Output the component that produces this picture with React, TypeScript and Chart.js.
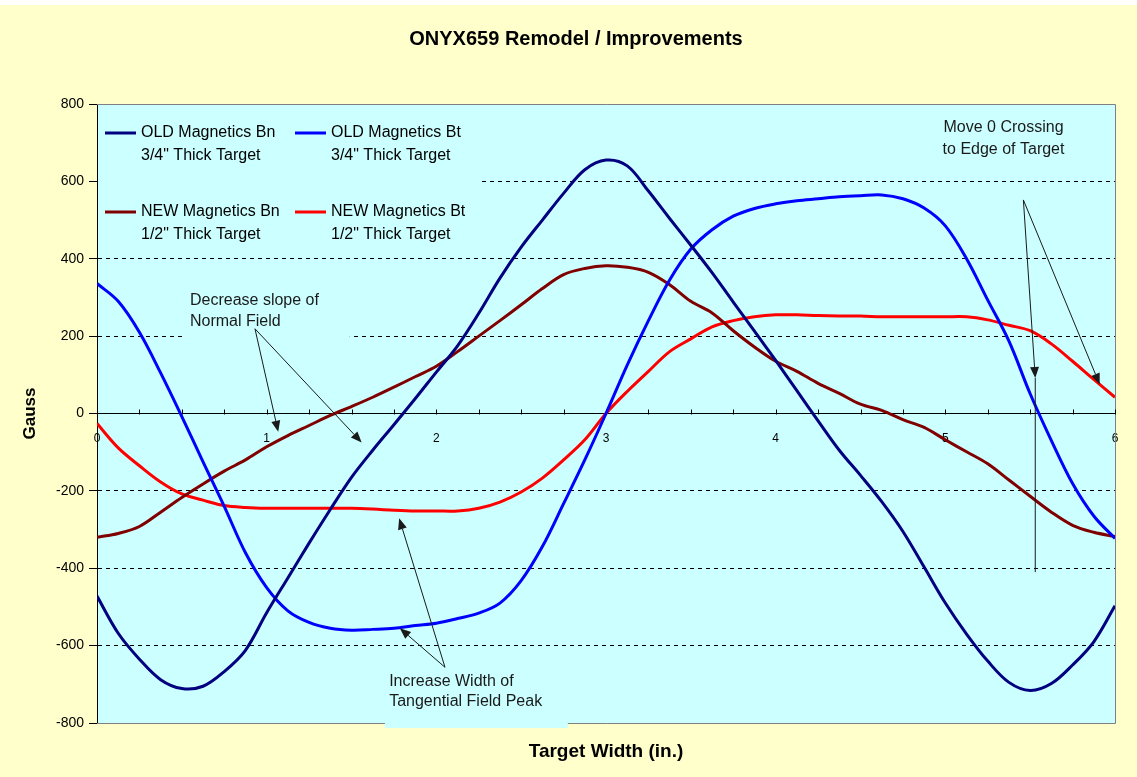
import React, { useEffect, useRef } from "react";
import { Chart, registerables } from "chart.js";

Chart.register(...registerables);

const FONT = "'Liberation Sans', Arial, sans-serif";

const chartTitle = "ONYX659 Remodel / Improvements";
const xAxisTitle = "Target Width (in.)";
const yAxisTitle = "Gauss";

const xInches = [0, 0.125, 0.25, 0.375, 0.5, 0.625, 0.75, 0.875, 1, 1.125, 1.25, 1.375, 1.5, 1.625, 1.75, 1.875, 2, 2.125, 2.25, 2.375, 2.5, 2.625, 2.75, 2.875, 3, 3.125, 3.25, 3.375, 3.5, 3.625, 3.75, 3.875, 4, 4.125, 4.25, 4.375, 4.5, 4.625, 4.75, 4.875, 5, 5.125, 5.25, 5.375, 5.5, 5.625, 5.75, 5.875, 6];

const oldBn = [-472, -568, -635, -688, -711, -705, -667, -612, -515, -425, -335, -248, -165, -95, -29, 38, 107, 175, 259, 350, 430, 500, 569, 630, 655, 640, 575, 504, 435, 364, 288, 213, 137, 59, -19, -95, -160, -228, -305, -397, -490, -570, -640, -695, -716, -698, -650, -590, -497];
const oldBt = [336, 290, 210, 105, -8, -125, -240, -360, -450, -510, -540, -555, -560, -558, -555, -548, -542, -530, -516, -490, -432, -344, -233, -120, 0, 125, 240, 345, 425, 475, 510, 530, 542, 550, 555, 560, 563, 565, 555, 531, 485, 400, 293, 187, 51, -70, -181, -265, -323];
const newBn = [-320, -310, -292, -255, -217, -182, -149, -120, -86, -57, -31, -5, 18, 42, 68, 95, 122, 160, 200, 240, 281, 323, 359, 375, 382, 378, 365, 333, 290, 260, 214, 172, 135, 109, 78, 52, 24, 8, -16, -36, -68, -99, -130, -172, -214, -255, -289, -307, -318];
const newBt = [-26, -89, -135, -177, -208, -224, -238, -243, -245, -245, -245, -245, -245, -247, -250, -252, -252, -252, -245, -229, -203, -167, -120, -68, 0, 57, 109, 160, 193, 224, 240, 250, 255, 255, 253, 252, 252, 250, 250, 250, 250, 250, 242, 228, 214, 180, 135, 88, 42];

const seriesLabels = [
  ["OLD Magnetics Bn", "3/4\" Thick Target"],
  ["OLD Magnetics Bt", "3/4\" Thick Target"],
  ["NEW Magnetics Bn", "1/2\" Thick Target"],
  ["NEW Magnetics Bt", "1/2\" Thick Target"],
];
const seriesValues = [oldBn, oldBt, newBn, newBt];
const seriesColors = ["#000080", "#0000FF", "#800000", "#FF0000"];

const yMin = -800;
const yMax = 800;
const yStep = 200;
const xMin = 0;
const xMax = 6;
const xStep = 0.25;

// annotations in data units
const notes = [
  {
    lines: ["Decrease slope of", "Normal Field"],
    align: "left",
    x: 0.548,
    y: [291, 237],
    box: [0.52, 1.49, 325, 190],
    from: [0.931, 219],
    to: [[1.068, -47], [1.56, -75]],
  },
  {
    lines: ["Increase Width of", "Tangential Field Peak"],
    align: "left",
    x: 1.722,
    y: [-693, -745],
    box: [1.697, 2.775, -660, -813],
    from: [2.051, -656],
    to: [[1.781, -271], [1.785, -555]],
  },
  {
    lines: ["Move 0 Crossing", "to Edge of Target"],
    align: "center",
    x: 5.343,
    y: [740, 683],
    box: null,
    from: [5.46, 552],
    to: [[5.53, 92], [5.91, 75]],
  },
];
const edgeMarker = { x: 5.53, y0: 92, y1: -410 };

function arrow(ctx: CanvasRenderingContext2D, x0: number, y0: number, x1: number, y1: number) {
  const ang = Math.atan2(y1 - y0, x1 - x0);
  const len = 11;
  const hw = 4.5;
  const bx = x1 - len * Math.cos(ang);
  const by = y1 - len * Math.sin(ang);
  ctx.beginPath();
  ctx.moveTo(x0, y0);
  ctx.lineTo(bx, by);
  ctx.stroke();
  ctx.beginPath();
  ctx.moveTo(x1, y1);
  ctx.lineTo(bx + hw * Math.sin(ang), by - hw * Math.cos(ang));
  ctx.lineTo(bx - hw * Math.sin(ang), by + hw * Math.cos(ang));
  ctx.closePath();
  ctx.fill();
}

const decorPlugin = {
  id: "decor",
  beforeDraw(chart: any) {
    const { ctx, width, height, chartArea: a } = chart;
    ctx.save();
    ctx.fillStyle = "#FFFFFF";
    ctx.fillRect(0, 0, width, height);
    ctx.fillStyle = "#FFFFCC";
    ctx.fillRect(0, 5, width, height - 5);
    ctx.fillStyle = "#CCFFFF";
    ctx.fillRect(a.left, a.top, a.right - a.left, a.bottom - a.top);
    ctx.restore();
  },
  beforeDatasetsDraw(chart: any) {
    const { ctx, chartArea: a, scales } = chart;
    const xs = scales.x;
    const ys = scales.y;
    ctx.save();
    // plot border
    ctx.strokeStyle = "#808080";
    ctx.lineWidth = 1;
    ctx.beginPath();
    ctx.moveTo(a.left, a.top + 0.5);
    ctx.lineTo(a.right + 0.5, a.top + 0.5);
    ctx.lineTo(a.right + 0.5, a.bottom + 0.5);
    ctx.lineTo(a.left, a.bottom + 0.5);
    ctx.stroke();
    // x minor tick marks (inside)
    const y0 = Math.round(ys.getPixelForValue(0)) + 0.5;
    ctx.strokeStyle = "#000";
    ctx.beginPath();
    xs.ticks.forEach((t: any) => {
      const px = Math.round(xs.getPixelForValue(t.value)) + 0.5;
      ctx.moveTo(px, y0);
      ctx.lineTo(px, y0 - 5);
    });
    ctx.stroke();
    // text boxes hiding grid lines
    ctx.fillStyle = "#CCFFFF";
    notes.forEach((n) => {
      if (!n.box) return;
      const [bx0, bx1, by0, by1] = n.box;
      const l = xs.getPixelForValue(bx0);
      const r = xs.getPixelForValue(bx1);
      const t = ys.getPixelForValue(by0);
      const b = ys.getPixelForValue(by1);
      ctx.fillRect(l, t, r - l, b - t);
    });
    // legend box
    ctx.fillRect(a.left + 1, a.top + 1, 380, 146);
    // legend entries
    ctx.font = `16px ${FONT}`;
    ctx.textBaseline = "middle";
    ctx.textAlign = "left";
    chart.data.datasets.forEach((ds: any, i: number) => {
      const col = i % 2;
      const row = Math.floor(i / 2);
      const lx = a.left + (col === 0 ? 8 : 198);
      const ly = a.top + (row === 0 ? 29 : 108);
      ctx.strokeStyle = ds.borderColor;
      ctx.lineWidth = 3;
      ctx.beginPath();
      ctx.moveTo(lx, ly);
      ctx.lineTo(lx + 31, ly);
      ctx.stroke();
      ctx.fillStyle = "#000";
      const lines: string[] = seriesLabels[i];
      lines.forEach((s, k) => ctx.fillText(s, lx + 36, ly + k * 23));
    });
    ctx.restore();
  },
  afterDatasetsDraw(chart: any) {
    const { ctx, chartArea: a, scales } = chart;
    const xs = scales.x;
    const ys = scales.y;
    ctx.save();
    ctx.fillStyle = "#1a1a1a";
    ctx.strokeStyle = "#1a1a1a";
    ctx.lineWidth = 1;
    ctx.font = `16px ${FONT}`;
    ctx.textBaseline = "middle";
    notes.forEach((n) => {
      ctx.textAlign = n.align as CanvasTextAlign;
      n.lines.forEach((s, k) => {
        ctx.fillText(s, xs.getPixelForValue(n.x), ys.getPixelForValue(n.y[k]));
      });
      const fx = xs.getPixelForValue(n.from[0]);
      const fy = ys.getPixelForValue(n.from[1]);
      n.to.forEach((p) => {
        arrow(ctx, fx, fy, xs.getPixelForValue(p[0]), ys.getPixelForValue(p[1]));
      });
    });
    const ex = xs.getPixelForValue(edgeMarker.x);
    ctx.beginPath();
    ctx.moveTo(ex, ys.getPixelForValue(edgeMarker.y0));
    ctx.lineTo(ex, ys.getPixelForValue(edgeMarker.y1));
    ctx.stroke();

    // titles
    ctx.fillStyle = "#000";
    ctx.textAlign = "center";
    ctx.font = `bold 20px ${FONT}`;
    ctx.fillText(chartTitle, (a.left + a.right) / 2 - 30, 39);
    ctx.font = `bold 19px ${FONT}`;
    ctx.fillText(xAxisTitle, (a.left + a.right) / 2, 752);
    ctx.font = `bold 17px ${FONT}`;
    ctx.translate(30, (a.top + a.bottom) / 2);
    ctx.rotate(-Math.PI / 2);
    ctx.fillText(yAxisTitle, 0, 0);
    ctx.restore();
  },
};

export default function App() {
  const ref = useRef<HTMLCanvasElement | null>(null);
  useEffect(() => {
    document.body.style.margin = "0";
    const canvas = ref.current;
    if (!canvas) return;
    const chart = new Chart(canvas, {
      type: "line",
      data: {
        datasets: seriesValues.map((vals, i) => ({
          label: seriesLabels[i].join(" "),
          data: xInches.map((x, k) => ({ x, y: vals[k] })),
          borderColor: seriesColors[i],
          backgroundColor: seriesColors[i],
          borderWidth: 3,
          pointRadius: 0,
          fill: false,
          tension: 0.35,
        })),
      },
      options: {
        responsive: false,
        animation: false,
        devicePixelRatio: 1,
        layout: { padding: { left: 0, top: 104, right: 22, bottom: 54 } },
        plugins: {
          legend: { display: false },
          tooltip: { enabled: false },
          title: { display: false },
        },
        scales: {
          x: {
            type: "linear",
            min: xMin,
            max: xMax,
            position: { y: 0 } as any,
            grid: { display: false },
            border: { display: true, color: "#000", width: 1 },
            ticks: {
              stepSize: xStep,
              autoSkip: false,
              maxRotation: 0,
              padding: 10,
              color: "#000",
              font: { family: FONT, size: 12 },
              callback: (v: any) => (Number.isInteger(v) ? String(v) : ""),
            },
          },
          y: {
            min: yMin,
            max: yMax,
            afterFit: (s: any) => {
              s.width = 97;
            },
            grid: {
              color: (c: any) => {
                const v = c.tick ? c.tick.value : 0;
                return v === 0 || Math.abs(v) === 800 ? "rgba(0,0,0,0)" : "#000";
              },
              lineWidth: 1,
              drawTicks: true,
              tickLength: 8,
              tickColor: "#000",
              tickBorderDash: [],
            },
            border: { display: true, color: "#000", width: 1, dash: [4, 4] },
            ticks: {
              stepSize: yStep,
              padding: 5,
              color: "#000",
              font: { family: FONT, size: 14 },
            },
          },
        },
      },
      plugins: [decorPlugin],
    });
    return () => chart.destroy();
  }, []);
  return <canvas ref={ref} width={1137} height={777} style={{ display: "block" }} />;
}
